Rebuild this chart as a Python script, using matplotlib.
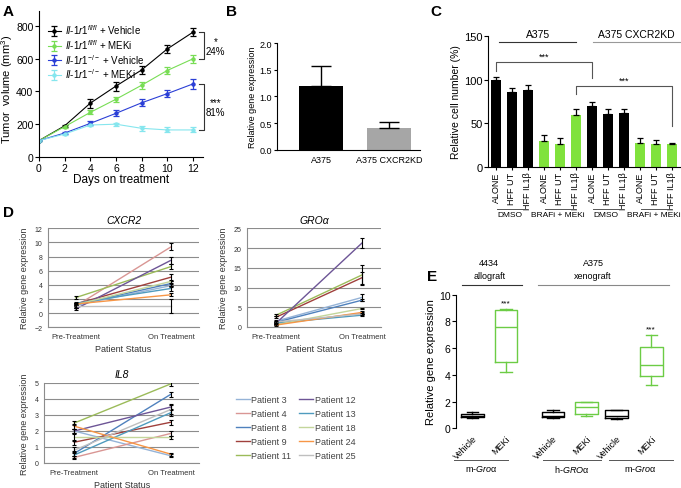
import matplotlib
matplotlib.use("Agg")
import matplotlib.pyplot as plt
import matplotlib.transforms as mtransforms

plt.rcParams['font.family'] = ['Liberation Sans', 'DejaVu Sans']
plt.rcParams['mathtext.fontset'] = 'custom'
plt.rcParams['mathtext.rm'] = 'Liberation Sans'
plt.rcParams['mathtext.it'] = 'Liberation Sans:italic'

W, H = 681, 489

# --- A: tumour growth ---
days = [0, 2, 4, 6, 8, 10, 12]
vol_fl_veh = [100, 190, 328, 432, 530, 658, 760]
err_fl_veh = [5, 8, 28, 28, 25, 22, 25]
vol_fl_mek = [100, 185, 272, 352, 437, 527, 598]
err_fl_mek = [5, 6, 12, 15, 20, 22, 25]
vol_ko_veh = [100, 146, 205, 266, 330, 386, 445]
err_ko_veh = [5, 6, 12, 18, 22, 22, 28]
vol_ko_mek = [100, 140, 195, 200, 175, 165, 165]
err_ko_mek = [5, 6, 8, 8, 15, 15, 15]
a_labels = [r"$\mathit{Il}$-$\mathit{1r1}^{\mathit{fl/fl}}$ + Vehicle",
            r"$\mathit{Il}$-$\mathit{1r1}^{\mathit{fl/fl}}$ + MEKi",
            r"$\mathit{Il}$-$\mathit{1r1}^{-/-}$ + Vehicle",
            r"$\mathit{Il}$-$\mathit{1r1}^{-/-}$ + MEKi"]

# --- B: CXCR2 expression ---
b_cells = ['A375', 'A375 CXCR2KD']
b_vals = [1.19, 0.40]
b_err = [0.37, 0.12]

# --- C: relative cell number ---
c_labels = ['ALONE', 'HFF UT', 'HFF IL1β'] * 4
c_vals = [100, 86, 88, 30, 27, 60, 70, 61, 62, 28, 27, 26]
c_err = [3, 4, 6, 7, 6, 6, 5, 5, 4, 5, 4, 2]
c_groups = ['DMSO', 'BRAFi + MEKi', 'DMSO', 'BRAFi + MEKi']

# --- D: patient data ---
patients = ['Patient 3', 'Patient 4', 'Patient 8', 'Patient 9', 'Patient 11',
            'Patient 12', 'Patient 13', 'Patient 18', 'Patient 24', 'Patient 25']
status = ['Pre-Treatment', 'On Treatment']
cxcr2_pre = [1.1, 1.0, 1.2, 1.3, 2.2, 0.6, 1.4, 1.2, 1.3, 1.0]
cxcr2_on = [3.9, 9.4, 4.2, 5.1, 6.6, 7.5, 3.5, 4.5, 2.6, 1.0]
cxcr2_pre_err = [0.2, 0.3, 0.2, 0.2, 0.2, 0.2, 0.2, 0.2, 0.2, 0.3]
cxcr2_on_err = [0.2, 0.5, 0.3, 0.5, 0.4, 0.5, 0.3, 0.2, 0.2, 1.0]
gro_pre = [1.5, 0.8, 1.2, 2.5, 3.0, 1.0, 1.0, 0.6, 0.5, 1.3]
gro_on = [7.5, 3.5, 6.8, 12.5, 13.2, 21.3, 3.0, 4.7, 3.7, 3.3]
gro_pre_err = [0.3, 0.2, 0.3, 0.3, 0.3, 0.2, 0.2, 0.2, 0.2, 0.3]
gro_on_err = [0.8, 0.2, 0.3, 1.5, 2.5, 1.3, 0.2, 0.2, 0.3, 0.2]
il8_pre = [2.0, 0.35, 0.6, 1.3, 2.5, 2.0, 0.5, 1.6, 2.3, 0.8]
il8_on = [0.45, 1.85, 4.3, 2.55, 4.95, 3.5, 3.15, 1.6, 0.55, 3.35]
il8_pre_err = [0.15, 0.1, 0.15, 0.15, 0.15, 0.15, 0.2, 0.2, 0.15, 0.2]
il8_on_err = [0.1, 0.15, 0.15, 0.15, 0.15, 0.2, 0.2, 0.1, 0.1, 0.3]
p_colors = ['#95B3D7', '#D99694', '#4F81BD', '#A0403C', '#9BBB59',
            '#6D5596', '#4F9BBE', '#C3D69B', '#F79646', '#BFBFBF']

# --- E: box plots ---
e_labels = ['Vehicle', 'MEKi'] * 3
e_med = [0.95, 7.55, 0.95, 1.62, 0.95, 4.77]
e_q1 = [0.82, 5.0, 0.87, 1.1, 0.77, 3.94]
e_q3 = [1.1, 8.88, 1.24, 1.95, 1.35, 6.07]
e_lo = [0.75, 4.25, 0.8, 0.9, 0.72, 3.24]
e_hi = [1.2, 8.92, 1.38, 1.98, 1.38, 6.99]
e_genes = ['m-$\\mathit{Gro}$α', 'h-$\\mathit{GRO}$α', 'm-$\\mathit{Gro}$α']

GREEN_A = '#78dd55'
GREEN_C = '#80e23c'
GREEN_E = '#6ccc45'


def rect(l, t, r, b):
    return [l / W, 1 - b / H, (r - l) / W, (b - t) / H]


fig = plt.figure(figsize=(W / 100, H / 100), dpi=100)

# ---------------- A ----------------
axA = fig.add_axes(rect(39, 12, 203, 158))
for vals, errs, col, lab in zip([vol_fl_veh, vol_fl_mek, vol_ko_veh, vol_ko_mek],
                                [err_fl_veh, err_fl_mek, err_ko_veh, err_ko_mek],
                                ['black', GREEN_A, '#2b3fd6', '#86e6ee'], a_labels):
    axA.errorbar(days, vals, yerr=errs, color=col, lw=0.8, marker='o', ms=2.2,
                 capsize=2, elinewidth=0.9, capthick=0.9, label=lab)
axA.set_xlim(0, 12.8)
axA.set_ylim(0, 890)
axA.set_xticks(days)
axA.set_yticks([0, 200, 400, 600, 800])
axA.spines[['top', 'right']].set_visible(False)
axA.tick_params(labelsize=7.5, length=3, pad=1)
axA.set_xlabel('Days on treatment', fontsize=8.5, labelpad=0)
axA.set_ylabel('Tumor  volume (mm$^3$)', fontsize=8)
axA.yaxis.set_label_coords(-0.145, 0.47)
axA.legend(loc='upper left', bbox_to_anchor=(0.02, 0.96), frameon=False, fontsize=7,
           handlelength=1.3, handletextpad=0.4, labelspacing=0.08, borderaxespad=0.2)
for top, bot, note in [(vol_fl_veh[-1], vol_fl_mek[-1], '*\n24%'),
                       (vol_ko_veh[-1], vol_ko_mek[-1], '***\n81%')]:
    axA.plot([12.45, 12.9, 12.9, 12.45], [top, top, bot, bot], color='#333333', lw=0.8, clip_on=False)
    axA.text(13.0, (top + bot) / 2, note, fontsize=7, ha='left', va='center',
             multialignment='center', linespacing=1.0)

# ---------------- B ----------------
axB = fig.add_axes(rect(277, 44, 420, 150.7))
axB.bar(range(len(b_cells)), b_vals, width=0.65, color=['black', '#a6a6a6'],
        yerr=[[0] * len(b_err), b_err],
        error_kw=dict(capsize=7, elinewidth=1.0, capthick=1.0, ecolor='black'))
axB.set_xlim(-0.65, 1.46)
axB.set_ylim(0, 2.0)
axB.set_yticks([0, 0.5, 1.0, 1.5, 2.0])
axB.set_yticklabels(['0.0', '0.5', '1.0', '1.5', '2.0'])
axB.set_xticks(range(len(b_cells)))
axB.set_xticklabels(b_cells)
axB.spines[['top', 'right']].set_visible(False)
axB.tick_params(labelsize=6.5, length=2.5, pad=1)
axB.tick_params(axis='x', length=0, pad=4)
axB.set_ylabel('Relative gene expression', fontsize=6.5, labelpad=2)

# ---------------- C ----------------
axC = fig.add_axes(rect(488, 36.7, 680, 168.3))
c_x = list(range(len(c_vals)))
c_colors = (['black'] * 3 + [GREEN_C] * 3) * 2
axC.bar(c_x, c_vals, width=0.65, color=c_colors,
        yerr=[[0] * len(c_err), c_err],
        error_kw=dict(capsize=2.5, elinewidth=0.9, capthick=0.9, ecolor='black'))
axC.set_xlim(-0.5, 11.5)
axC.set_ylim(0, 150)
axC.set_yticks([0, 50, 100, 150])
axC.set_xticks(c_x)
axC.set_xticklabels(c_labels, rotation=90, fontsize=6.5)
axC.spines[['top', 'right']].set_visible(False)
axC.tick_params(axis='y', labelsize=8, length=3, pad=1)
axC.tick_params(axis='x', length=2, pad=1)
axC.set_ylabel('Relative cell number (%)', fontsize=7.5, labelpad=2)
trC = mtransforms.blended_transform_factory(axC.transData, axC.transAxes)
for g, name in enumerate(c_groups):
    axC.plot([3 * g + 0.05, 3 * g + 1.95], [-0.317, -0.317], transform=trC, color='#555555',
             lw=0.7, clip_on=False)
    axC.text(3 * g + 0.85, -0.33, name, transform=trC, fontsize=6, ha='center', va='top')
axC.plot([0.2, 5.0], [142.5, 142.5], color='#333333', lw=0.8, clip_on=False)
axC.text(2.6, 152, 'A375', fontsize=7.5, ha='center', va='center')
axC.plot([6.05, 11.5], [142.5, 142.5], color='#999999', lw=0.8, clip_on=False)
axC.text(8.75, 152, 'A375 CXCR2KD', fontsize=7.5, ha='center', va='center')
# significance brackets
axC.plot([0, 0, 6, 6], [c_vals[0] + 10, 119.5, 119.5, 101.5], color='#555555', lw=0.8)
axC.text(3.0, 121, '***', fontsize=6.5, ha='center', va='bottom')
axC.plot([5, 5, 11, 11], [c_vals[5] + 23.5, 93, 93, c_vals[11] + 21.5], color='#555555', lw=0.8)
axC.text(8.0, 94.5, '***', fontsize=6.5, ha='center', va='bottom')


# ---------------- D ----------------
def excel_panel(box, pre, on, pre_err, on_err, title, ylim, yticks, xlim):
    ax = fig.add_axes(rect(*box))
    handles = []
    for i in range(len(patients)):
        ln, = ax.plot([0, 1], [pre[i], on[i]], color=p_colors[i], lw=1.0)
        handles.append(ln)
        ax.errorbar([0, 1], [pre[i], on[i]], yerr=[pre_err[i], on_err[i]], fmt='none',
                    ecolor='black', elinewidth=0.8, capsize=1.5, capthick=0.8)
    ax.set_xlim(*xlim)
    ax.set_ylim(*ylim)
    ax.set_yticks(yticks)
    ax.set_xticks([0, 1])
    ax.set_xticklabels(status)
    ax.yaxis.grid(True, color='#8c8c8c', lw=0.8)
    ax.set_axisbelow(True)
    ax.spines[['top', 'right']].set_visible(False)
    for s in ['left', 'bottom']:
        ax.spines[s].set_color('#8c8c8c')
        ax.spines[s].set_linewidth(0.8)
    ax.tick_params(axis='y', labelsize=5, length=0, pad=4, labelcolor='#333333')
    ax.tick_params(axis='x', labelsize=5.5, length=0, pad=4, labelcolor='#333333')
    ax.set_xlabel('Patient Status', fontsize=6.5, labelpad=3, color='#333333')
    ax.set_ylabel('Relative gene expression', fontsize=6.5, labelpad=4, color='#333333')
    ax.set_title(title, fontsize=7.5, style='italic', pad=4)
    return handles


excel_panel((48, 229.3, 199, 328.3), cxcr2_pre, cxcr2_on, cxcr2_pre_err, cxcr2_on_err,
            'CXCR2', (-2, 12), range(-2, 13, 2), (-0.29, 1.29))
excel_panel((247, 229.3, 381, 328), gro_pre, gro_on, gro_pre_err, gro_on_err,
            'GROα', (0, 25), range(0, 26, 5), (-0.34, 1.22))
d_handles = excel_panel((44.3, 384, 199, 464), il8_pre, il8_on, il8_pre_err, il8_on_err,
                        'IL8', (0, 5), range(0, 6), (-0.31, 1.29))
fig.legend(d_handles, patients, loc='upper left', bbox_to_anchor=(236 / W, 1 - 396 / H),
           ncol=2, frameon=False, fontsize=6.5, handlelength=1.5, columnspacing=0.9,
           labelspacing=0.55, handletextpad=0.2, borderaxespad=0, borderpad=0,
           labelcolor='#444444')

# ---------------- E ----------------
axE = fig.add_axes(rect(456, 295.7, 672, 429.3))
e_pos = [1, 2, 3.4, 4.4, 5.3, 6.33]
stats = [dict(med=m, q1=a, q3=b, whislo=lo, whishi=hi, fliers=[])
         for m, a, b, lo, hi in zip(e_med, e_q1, e_q3, e_lo, e_hi)]
art = axE.bxp(stats, positions=e_pos, widths=0.68, showfliers=False, patch_artist=False)
for i in range(len(stats)):
    col = 'black' if i % 2 == 0 else GREEN_E
    art['boxes'][i].set(color=col, lw=1.0)
    art['medians'][i].set(color=col, lw=1.0)
    for j in (2 * i, 2 * i + 1):
        art['whiskers'][j].set(color=col, lw=1.0)
        art['caps'][j].set(color=col, lw=1.0)
axE.text(e_pos[1], e_hi[1] + 0.2, '***', fontsize=6, ha='center', va='bottom')
axE.text(e_pos[5], e_hi[5] + 0.2, '***', fontsize=6, ha='center', va='bottom')
axE.set_xlim(0.51, 6.95)
axE.set_ylim(0, 10)
axE.set_yticks(range(0, 11, 2))
axE.set_xticks(e_pos)
axE.set_xticklabels(e_labels, rotation=45, ha='right', rotation_mode='anchor', fontsize=6.5)
axE.spines[['top', 'right', 'bottom']].set_visible(False)
axE.tick_params(axis='y', labelsize=7.5, length=3, pad=1)
axE.tick_params(axis='x', length=0, pad=4)
axE.set_ylabel('Relative gene expression', fontsize=8, labelpad=2)
axE.plot([0.68, 2.48], [10.75, 10.75], color='#333333', lw=0.8, clip_on=False)
axE.text(1.5, 12.1, '4434', fontsize=6.5, ha='center', va='bottom')
axE.text(1.5, 11.1, 'allograft', fontsize=6.5, ha='center', va='bottom')
axE.plot([2.94, 6.86], [10.75, 10.75], color='#888888', lw=0.8, clip_on=False)
axE.text(4.6, 12.1, 'A375', fontsize=6.5, ha='center', va='bottom')
axE.text(4.6, 11.1, 'xenograft', fontsize=6.5, ha='center', va='bottom')
for (x0, x1), name in zip([(0.45, 2.07), (3.1, 4.82), (5.06, 6.97)], e_genes):
    axE.plot([x0, x1], [-2.37, -2.37], color='#555555', lw=0.7, clip_on=False)
    axE.text((x0 + x1) / 2, -2.6, name, fontsize=6.5, ha='center', va='top')

# panel letters
for lab, x, y in [('A', 3, 12), ('B', 226, 12), ('C', 430, 12), ('D', 3, 213), ('E', 427, 277)]:
    fig.text(x / W, 1 - y / H, lab, fontsize=11, fontweight='bold', ha='left', va='center')

fig.savefig('out.png', dpi=100)
